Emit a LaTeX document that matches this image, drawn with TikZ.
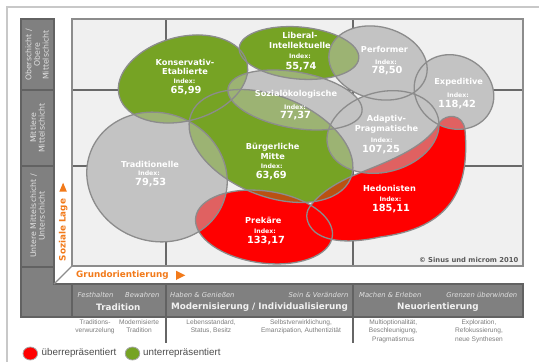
\documentclass[tikz,border=0pt]{standalone}
\usepackage{fontspec}
\setmainfont{DejaVu Sans}
\newfontfamily\arialf{Liberation Sans}
\definecolor{mgreen}{RGB}{118,163,36}
\definecolor{mgray}{RGB}{195,195,195}
\definecolor{mred}{RGB}{255,0,0}
\definecolor{outl}{RGB}{140,140,140}
\definecolor{plotbg}{RGB}{240,240,240}
\definecolor{gridc}{RGB}{105,105,105}
\definecolor{boxc}{RGB}{128,128,128}
\definecolor{boxline}{RGB}{98,98,98}
\definecolor{orangec}{RGB}{242,122,26}
\definecolor{framec}{RGB}{200,200,200}
\definecolor{desc}{RGB}{125,125,125}
\definecolor{boxtext}{RGB}{225,225,225}

\newcommand\shpTrad[1]{\path[#1,shift={(157,177)},rotate=-20] (0,0) ellipse [x radius=71,y radius=64];}
\newcommand\shpKons[1]{\path[#1,shift={(183,79)},rotate=15] (0,0) ellipse [x radius=66,y radius=42];}
\newcommand\shpLib[1]{\path[#1,shift={(299,53)},rotate=-5] (0,0) ellipse [x radius=60,y radius=26];}
\newcommand\shpPerf[1]{\path[#1,shift={(378,63)},rotate=-15] (0,0) ellipse [x radius=50,y radius=36];}
\newcommand\shpExp[1]{\path[#1,shift={(454,92)},rotate=-30] (0,0) ellipse [x radius=41,y radius=36];}
\newcommand\shpSoz[1]{\path[#1,shift={(295,100)},rotate=-10] (0,0) ellipse [x radius=68,y radius=28];}
\newcommand\shpAdap[1]{\path[#1,shift={(383,132)},rotate=15] (0,0) ellipse [x radius=57,y radius=40];}
\newcommand\shpBuerg[1]{\path[#1,shift={(271,146)},rotate=-22] (0,0) ellipse [x radius=86,y radius=50];}
\newcommand\shpPrek[1]{\path[#1,shift={(264,227)},rotate=-8] (0,0) ellipse [x radius=69,y radius=36];}
\newcommand\shpHed[1]{\path[#1] (309,208) .. controls (318,194) and (335,184) .. (350,177)
  .. controls (380,164) and (425,150) .. (440,122)
  .. controls (446,114) and (463,113) .. (465,130)
  .. controls (470,190) and (450,228) .. (380,237)
  .. controls (358,242) and (330,244) .. (315,232)
  .. controls (306,224) and (305,214) .. (309,208) -- cycle;}

\begin{document}
\begin{tikzpicture}[x=1pt,y=-1pt,
  lbl/.style={text=white,font=\bfseries\fontsize{8.2}{9.8}\selectfont,align=center,inner sep=0pt},
  idx/.style={text=white,font=\bfseries\fontsize{6.2}{7}\selectfont,inner sep=0pt},
  val/.style={text=white,font=\bfseries\fontsize{9.8}{11}\selectfont,inner sep=0pt},
  boxcell/.style={fill=boxc,draw=boxline,line width=1.2pt},
  coltext/.style={text=boxtext,font=\fontsize{7.8}{8.6}\selectfont,align=center,inner sep=0pt,rotate=90},
  itext/.style={text=boxtext,font=\itshape\fontsize{6.8}{8}\selectfont,inner sep=0pt},
  btext/.style={text=white!95!black,font=\bfseries\fontsize{8.8}{10}\selectfont,inner sep=0pt},
  dtext/.style={text=desc,font=\arialf\fontsize{6.6}{8.4}\selectfont,align=center,inner sep=0pt},
  axtext/.style={text=orangec,font=\bfseries\fontsize{8.8}{10}\selectfont,inner sep=0pt},
  gridline/.style={draw=gridc,line width=1.3pt},
  milieuoutline/.style={draw=outl,line width=1.3pt},
  legtext/.style={text=black!70,font=\arialf\fontsize{9.8}{11}\selectfont,inner sep=0pt,anchor=west}]

\useasboundingbox (0,0) rectangle (539,362);
\fill[white] (0,0) rectangle (539,362);

% outer frame
\draw[framec,line width=1.5pt] (7,362) -- (7,7) -- (539,7);

% left column and bottom band
\path[boxcell] (21,19) rectangle (54,90);
\path[boxcell] (21,90) rectangle (54,166);
\path[boxcell] (21,166) rectangle (54,267);
\path[boxcell] (21,267) -- (54,267) -- (54,284) -- (72,284) -- (72,317) -- (21,317) -- cycle;
\path[boxcell] (72,284) rectangle (166,317);
\path[boxcell] (166,284) rectangle (353,317);
\path[boxcell] (353,284) rectangle (523,317);

% plot area
\fill[plotbg] (72,19) rectangle (523,266);
\draw[gridline] (166,19) -- (166,266);
\draw[gridline] (353,19) -- (353,266);
\draw[gridline] (72,90) -- (523,90);
\draw[gridline] (72,166) -- (523,166);
\draw[draw=black!45,line width=1.3pt] (72,19) rectangle (523,266);
\draw[draw=black!45,line width=1.2pt] (54,284) -- (72,266);

% milieus: opaque pass
\shpTrad{fill=mgray}\shpSoz{fill=mgray}\shpPerf{fill=mgray}\shpExp{fill=mgray}\shpAdap{fill=mgray}
\shpKons{fill=mgreen}\shpLib{fill=mgreen}\shpBuerg{fill=mgreen}
\shpPrek{fill=mred}\shpHed{fill=mred}
% blending passes
\begin{scope}[transparency group,opacity=0.5]
\shpKons{fill=mgreen}\shpLib{fill=mgreen}\shpBuerg{fill=mgreen}
\end{scope}
\begin{scope}[transparency group,opacity=0.5]
\shpTrad{fill=mgray}\shpSoz{fill=mgray}\shpPerf{fill=mgray}\shpExp{fill=mgray}\shpAdap{fill=mgray}
\end{scope}
% outlines
\shpTrad{milieuoutline}\shpSoz{milieuoutline}\shpPerf{milieuoutline}\shpExp{milieuoutline}\shpAdap{milieuoutline}
\shpKons{milieuoutline}\shpLib{milieuoutline}\shpBuerg{milieuoutline}
\shpPrek{milieuoutline}\shpHed{milieuoutline}

% milieu labels
\node[lbl] (konsN) at (185,67) {Konservativ-\\Etablierte};
\node[idx] (konsI) at (184.5,80.7) {Index:};
\node[val] (konsV) at (186,90.7) {65,99};
\node[lbl] (libN) at (300,40.5) {Liberal-\\Intellektuelle};
\node[idx] (libI) at (300,56) {Index:};
\node[val] (libV) at (301,67) {55,74};
\node[lbl] (perfN) at (384.5,49) {Performer};
\node[idx] (perfI) at (386,62) {Index:};
\node[val] (perfV) at (387,71) {78,50};
\node[lbl] (expN) at (458.7,82) {Expeditive};
\node[idx] (expI) at (458,95) {Index:};
\node[val] (expV) at (457,105) {118,42};
\node[lbl] (sozN) at (296,94.3) {Sozialökologische};
\node[idx] (sozI) at (295,106.7) {Index:};
\node[val] (sozV) at (295.5,116) {77,37};
\node[lbl] (adapN) at (386.5,124.5) {Adaptiv-\\Pragmatische};
\node[idx] (adapI) at (381.7,140) {Index:};
\node[val] (adapV) at (381,150) {107,25};
\node[lbl] (buergN) at (272.7,151) {Bürgerliche\\Mitte};
\node[idx] (buergI) at (271.7,166) {Index:};
\node[val] (buergV) at (271.3,176) {63,69};
\node[lbl] (tradN) at (150,164) {Traditionelle};
\node[idx] (tradI) at (149,173.5) {Index:};
\node[val] (tradV) at (150.7,183) {79,53};
\node[lbl] (prekN) at (263.3,220) {Prekäre};
\node[idx] (prekI) at (265,230.7) {Index:};
\node[val] (prekV) at (266,240.7) {133,17};
\node[lbl] (hedN) at (389.5,188) {Hedonisten};
\node[idx] (hedI) at (390.5,199) {Index:};
\node[val] (hedV) at (391,209) {185,11};

% copyright
\node[text=black!65,font=\bfseries\fontsize{6.8}{8}\selectfont,inner sep=0pt,anchor=east] (copy) at (518.5,260) {© Sinus und microm 2010};

% axis labels
\node[axtext,rotate=90] (soz) at (63.3,230) {Soziale Lage};
\fill[orangec] (59.3,191.7) -- (66.9,191.7) -- (63.1,182.7) -- cycle;
\node[axtext,anchor=west] (grund) at (76,275) {Grundorientierung};
\fill[orangec] (176,270.7) -- (185.3,275.3) -- (176,280) -- cycle;

% left column texts
\node[coltext] (c1) at (37,55) {Oberschicht /\\Obere\\Mittelschicht};
\node[coltext] (c2) at (37.5,128) {Mittlere\\Mittelschicht};
\node[coltext] (c3) at (37.5,216) {Untere Mittelschicht /\\Unterschicht};

% band texts
\node[itext] (b1a) at (95.5,295) {Festhalten};
\node[itext] (b1b) at (142.3,295) {Bewahren};
\node[btext] (b1) at (118.3,307.3) {Tradition};
\node[itext,anchor=west] (b2a) at (170,295) {Haben \& Genießen};
\node[itext,anchor=east] (b2b) at (348.5,295) {Sein \& Verändern};
\node[btext] (b2) at (259.5,307.3) {Modernisierung / Individualisierung};
\node[itext,anchor=west] (b3a) at (359,295) {Machen \& Erleben};
\node[itext,anchor=east] (b3b) at (517.5,295) {Grenzen überwinden};
\node[btext] (b3) at (438,307.3) {Neuorientierung};

% descriptions
\draw[draw=black!60,line width=1.2pt] (166,317) -- (166,343);
\draw[draw=black!60,line width=1.2pt] (353,317) -- (353,343);
\node[dtext,anchor=north] (d1) at (95,319.5) {Traditions-\\verwurzelung};
\node[dtext,anchor=north] (d2) at (139,319.5) {Modernisierte\\Tradition};
\node[dtext,anchor=north] (d3) at (211,319.5) {Lebensstandard,\\Status, Besitz};
\node[dtext,anchor=north] (d4) at (301,319.5) {Selbstverwirklichung,\\Emanzipation, Authentizität};
\node[dtext,anchor=north] (d5) at (393.3,319.5) {Multioptionalität,\\Beschleunigung,\\Pragmatismus};
\node[dtext,anchor=north] (d6) at (479,319.5) {Exploration,\\Refokussierung,\\neue Synthesen};

% legend
\path[fill=mred,draw=black!35,line width=0.8pt] (30.3,353.5) ellipse [x radius=7.3,y radius=6.5];
\node[legtext] (l1) at (41.5,353) {überrepräsentiert};
\path[fill=mgreen,draw=black!35,line width=0.8pt] (132.5,353.5) ellipse [x radius=7.3,y radius=6.5];
\node[legtext] (l2) at (143,353) {unterrepräsentiert};
\end{tikzpicture}
\end{document}
